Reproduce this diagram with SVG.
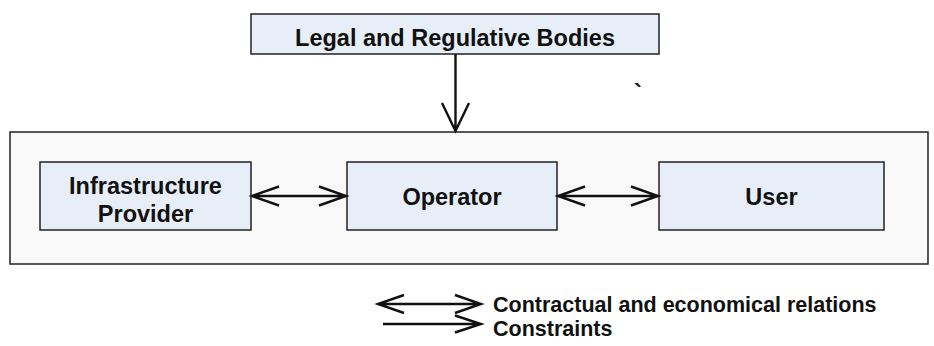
<svg xmlns="http://www.w3.org/2000/svg" width="934" height="346" viewBox="0 0 934 346">
  <style>
    .box { fill: #e8eef8; stroke: #222; stroke-width: 1.5; }
    .frame { fill: #f9f9f9; stroke: #222; stroke-width: 1.5; }
    .lbl { font-family: "Liberation Sans", Arial, sans-serif; font-weight: bold; font-size: 23.5px; fill: #111; }
    .leg { font-size: 21.5px; }
    .line { fill: none; stroke: #111; stroke-width: 2.4; }
  </style>
  <rect width="934" height="346" fill="#ffffff"/>

  <g id="system-frame">
    <rect class="frame" x="10" y="132" width="918" height="132"/>
  </g>

  <g id="legal-bodies">
    <rect class="box" x="251" y="14" width="408" height="40"/>
    <text class="lbl" x="455" y="46" text-anchor="middle">Legal and Regulative Bodies</text>
  </g>

  <g id="infrastructure-provider">
    <rect class="box" x="40" y="162" width="211" height="68"/>
    <text class="lbl" x="145.5" y="194" text-anchor="middle">Infrastructure</text>
    <text class="lbl" x="145.5" y="222" text-anchor="middle">Provider</text>
  </g>

  <g id="operator">
    <rect class="box" x="347" y="162" width="210" height="68"/>
    <text class="lbl" x="452" y="205" text-anchor="middle">Operator</text>
  </g>

  <g id="user">
    <rect class="box" x="659" y="162" width="225" height="68"/>
    <text class="lbl" x="771.5" y="205" text-anchor="middle">User</text>
  </g>

  <text class="lbl" x="634" y="101" font-weight="normal" font-size="14">`</text>

  <g id="connectors">
    <!-- constraint: legal bodies to system -->
    <path class="line" d="M455.5 54 V131 M442 103 L455.5 131 L469 103"/>
    <!-- provider <-> operator -->
    <path class="line" d="M252 196 H346 M279 186.5 L252 196 L279 205.5 M319 186.5 L346 196 L319 205.5"/>
    <!-- operator <-> user -->
    <path class="line" d="M558 196 H658 M585 186.5 L558 196 L585 205.5 M631 186.5 L658 196 L631 205.5"/>
  </g>

  <g id="legend">
    <path class="line" d="M378 304 H481 M404 295 L378 304 L404 313 M455 295 L481 304 L455 313"/>
    <text class="lbl leg" x="493" y="312">Contractual and economical relations</text>
    <path class="line" d="M383 324 H481 M455 315.5 L481 324 L455 332.5"/>
    <text class="lbl leg" x="493" y="336">Constraints</text>
  </g>
</svg>
